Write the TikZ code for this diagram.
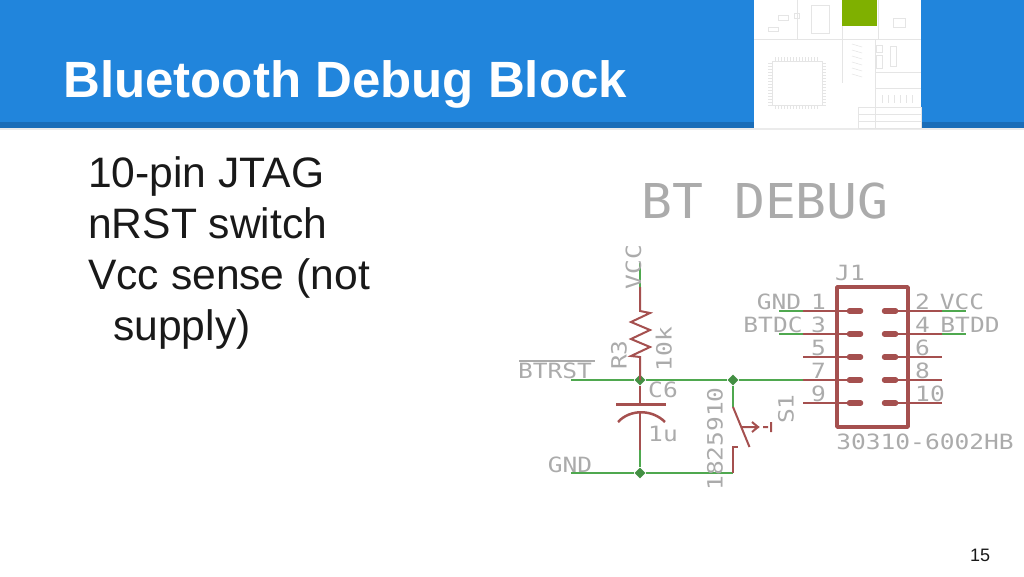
\documentclass[tikz,border=0pt]{standalone}
\usepackage{fontspec}
\setmainfont{Liberation Sans}
\setmonofont[FakeStretch=1.17]{DejaVu Sans Mono}
\newfontfamily\sheetfont[FakeStretch=1.07]{DejaVu Sans Mono}
\definecolor{hdrblue}{HTML}{2185DC}
\definecolor{hdrdark}{HTML}{1A6DB8}
\definecolor{thumbgreen}{HTML}{7FB000}
\definecolor{netgreen}{HTML}{4FA84F}
\definecolor{partred}{HTML}{A5504F}
\definecolor{silk}{HTML}{ABABAB}
\tikzset{
  net/.style={draw=netgreen, line width=2pt},
  part/.style={draw=partred, line width=2pt},
  junction/.style={fill=netgreen!85!black, diamond, inner sep=0pt, minimum size=11pt},
  silktxt/.style={text=silk, inner sep=0pt, font=\ttfamily\fontsize{21}{21}\selectfont, text height=15pt, text depth=0pt},
  thumbline/.style={draw=black!10, line width=.5pt},
  bodytxt/.style={anchor=base west, inner sep=0pt, text=black!90, font=\fontsize{42.6}{42.6}\selectfont}
}
\usetikzlibrary{shapes.geometric}
\begin{document}
\begin{tikzpicture}[x=1pt, y=-1pt]
\useasboundingbox (0,0) rectangle (1024,576);
% header
\fill[hdrblue] (0,0) rectangle (1024,122);
\fill[hdrdark] (0,122) rectangle (1024,128);
\fill[black!8] (0,128) rectangle (1024,130);
\node[anchor=base west, inner sep=0pt, text=white, font=\bfseries\fontsize{51}{51}\selectfont] (title) at (63,97) {Bluetooth Debug Block};
% thumbnail of the whole sheet
\fill[white] (754,0) rectangle (921,128);
\fill[thumbgreen] (842,0) rectangle (877,26);
\draw[thumbline] (754,39) -- (921,39) (797,0) -- (797,39) (878,0) -- (878,39) (842,26) -- (842,83)
  (875,39) -- (875,128) (875,72) -- (921,72) (875,88) -- (921,88)
  (858,107) rectangle (921,128) (858,114) -- (921,114) (858,121) -- (921,121)
  (772,61) rectangle (822,105) (811,5) rectangle (829,33) (893,18) rectangle (905,27)
  (778,15) rectangle (788,20) (768,27) rectangle (778,31) (794,13) rectangle (799,18);
\foreach \i in {0,...,14} {
  \draw[thumbline] (768,{63+\i*3}) -- (772,{63+\i*3}) (822,{63+\i*3}) -- (826,{63+\i*3});
  \draw[thumbline] ({775+\i*3},57) -- ({775+\i*3},61) ({775+\i*3},105) -- ({775+\i*3},109);
}
\foreach \i in {0,...,5} {
  \draw[thumbline] (852,{44+\i*6}) -- (862,{47+\i*6});
  \draw[thumbline] ({882+\i*6},95) -- ({882+\i*6},103);
}
\draw[thumbline] (876,45) rectangle (882,52) (876,55) rectangle (882,68) (890,46) rectangle (896,66);
% slide text
\node[bodytxt] (line1) at (88,187) {10-pin JTAG};
\node[bodytxt] (line2) at (88,238) {nRST switch};
\node[bodytxt] (line3) at (88,289) {Vcc sense (not};
\node[bodytxt] (line4) at (113,340) {supply)};
\node[anchor=center, inner sep=0pt, text=black!90, font=\fontsize{18}{18}\selectfont] (pagenum) at (980,555) {15};
% schematic
\node[silktxt, font=\sheetfont\fontsize{48}{48}\selectfont, text height=35pt] (sheet) at (765,201) {BT DEBUG};
\coordinate (vcc) at (640,263);
\coordinate (vccend) at (640,287);
\coordinate (rtop) at (640,311);
\coordinate (rbot) at (640,357);
\node[junction] (jrst) at (640,380) {};
\node[junction] (jsw) at (733,380) {};
\node[junction] (jgnd) at (640,473) {};
\coordinate (rstend) at (571,380);
\coordinate (gndend) at (571,473);
\coordinate (swbot) at (733,473);
\coordinate (swtop) at (733,407);
\coordinate (pin7) at (803,380);
\coordinate (ctop) at (640,404);
\coordinate (cbot) at (640,412);
\coordinate (clow) at (640,450);
\draw[net] (vcc) -- (vccend);
\draw[part] (vccend) -- (rtop) -- (650,313) -- (631,322) -- (650,330) -- (631,339) -- (650,347) -- (631,356) -- (rbot) -- (jrst.center);
\draw[net] (rstend) -- (jrst) -- (jsw) -- (pin7);
\draw[net] (gndend) -- (jgnd) -- (swbot);
\draw[net] (jsw) -- (swtop);
\draw[net] (clow) -- (jgnd);
\draw[part] (jrst) -- (ctop);
\draw[part] (cbot) -- (clow);
\draw[part, line width=3pt] (616,404) -- (666,404);
\draw[part, line width=2.5pt] (618,422) .. controls (630,409) and (652,409) .. (665,422);
% switch
\draw[part] (swtop) -- (749.5,447);
\draw[part] (swbot) -- (733,447) -- (738,447);
\draw[part] (741,427) -- (759,427) (752,422) -- (758,427) -- (752,432) (763,427) -- (768,427) (771,422) -- (771,432);
% J1 header
\coordinate (boxnw) at (837,287);
\coordinate (boxse) at (908,427);
\draw[part, line width=3.5pt, line join=round] (boxnw) rectangle (boxse);
\foreach \row/\py/\lnum/\rnum in {a/311/1/2, b/334/3/4, c/357/5/6, d/380/7/8, e/403/9/10} {
  \coordinate (l\row) at (803,\py);
  \coordinate (lp\row) at (849.5,\py);
  \coordinate (lq\row) at (860.5,\py);
  \coordinate (rp\row) at (884.5,\py);
  \coordinate (rq\row) at (895.5,\py);
  \coordinate (r\row) at (942,\py);
  \draw[part] (l\row) -- (lp\row);
  \draw[part] (rq\row) -- (r\row);
  \draw[part, line width=5.5pt, line cap=round] (lp\row) -- (lq\row);
  \draw[part, line width=5.5pt, line cap=round] (rp\row) -- (rq\row);
  \node[silktxt, anchor=east] (nl\row) at (826,\py-9.5) {\lnum};
  \node[silktxt, anchor=west] (nr\row) at (915,\py-9.5) {\rnum};
}
\coordinate (gndj) at (779,311);
\coordinate (tdc) at (779,334);
\coordinate (vccj) at (966,311);
\coordinate (tdd) at (966,334);
\draw[net] (gndj) -- (la);
\draw[net] (tdc) -- (lb);
\draw[net] (ra) -- (vccj);
\draw[net] (rb) -- (tdd);
% silk labels
\node[silktxt, rotate=90] (lblvcc) at (633.5,267) {VCC};
\node[silktxt, rotate=90] (lblr) at (619,355) {R3};
\node[silktxt, rotate=90] (lblk) at (664,349) {10k};
\node[silktxt] (lblc) at (663,390) {C6};
\node[silktxt] (lblu) at (663,434) {1u};
\node[silktxt] (lblgnd) at (570,465) {GND};
\node[silktxt] (lblrst) at (555,371) {BTRST};
\coordinate (barl) at (519,361);
\coordinate (barr) at (595,361);
\draw[silk, line width=1.5pt] (barl) -- (barr);
\node[silktxt, rotate=90] (lblsw) at (715,439) {1825910};
\node[silktxt, rotate=90] (lbls) at (786,409) {S1};
\node[silktxt] (lblj) at (850,273) {J1};
\node[silktxt] (lblgj) at (779,302) {GND};
\node[silktxt] (lbltdc) at (773,325) {BTDC};
\node[silktxt] (lblvj) at (962,302) {VCC};
\node[silktxt] (lbltdd) at (970,325) {BTDD};
\node[silktxt] (lblpart) at (925,442) {30310-6002HB};
\end{tikzpicture}
\end{document}
